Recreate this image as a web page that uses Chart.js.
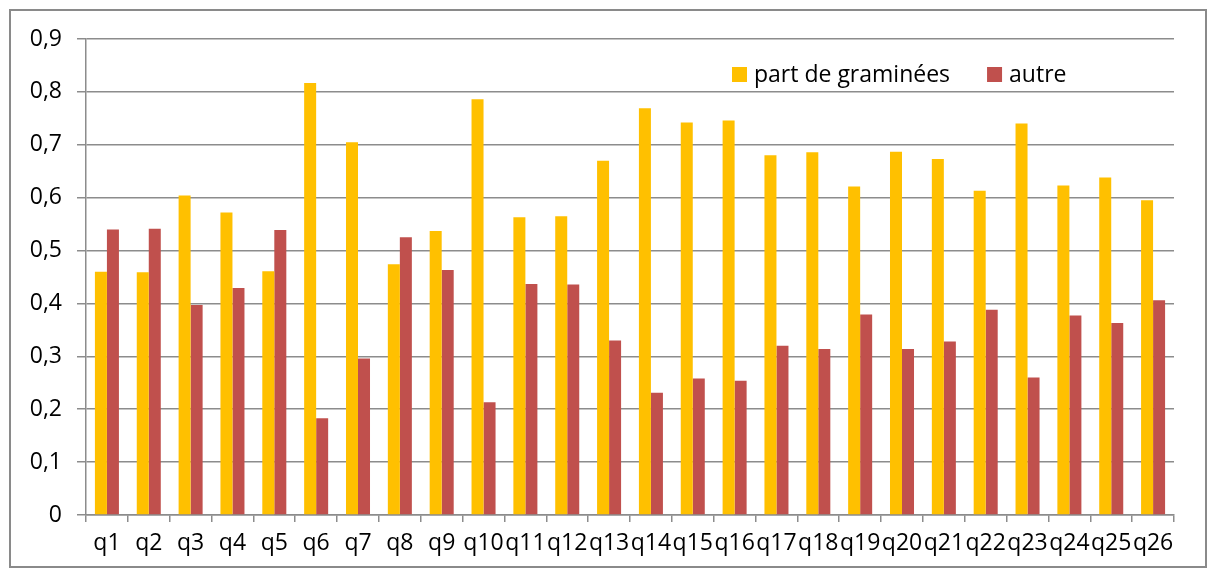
<!DOCTYPE html>
<html>
<head>
<meta charset="utf-8">
<script src="https://cdn.jsdelivr.net/npm/chart.js@4.4.0/dist/chart.umd.min.js"></script>
<style>
  html, body { margin: 0; padding: 0; background: #ffffff; }
  #wrap { position: relative; width: 1215px; height: 576px; }
  #frame { position: absolute; left: 9px; top: 9px; width: 1194px; height: 555px; border: 2px solid #8a8a8a; pointer-events: none; }
  canvas { position: absolute; left: 0; top: 0; }
</style>
</head>
<body>
<div id="wrap">
  <canvas id="myChart" width="1215" height="576"></canvas>
  <div id="frame"></div>
</div>
<script>
const questions = ['q1','q2','q3','q4','q5','q6','q7','q8','q9','q10','q11','q12','q13',
                   'q14','q15','q16','q17','q18','q19','q20','q21','q22','q23','q24','q25','q26'];
const graminees = [0.460, 0.459, 0.604, 0.572, 0.461, 0.817, 0.705, 0.474, 0.537, 0.786, 0.563, 0.565, 0.670,
                   0.769, 0.742, 0.746, 0.680, 0.686, 0.621, 0.687, 0.673, 0.613, 0.740, 0.623, 0.638, 0.595];
const autre = [0.540, 0.541, 0.397, 0.429, 0.539, 0.183, 0.296, 0.525, 0.463, 0.213, 0.437, 0.436, 0.330,
               0.231, 0.258, 0.254, 0.320, 0.314, 0.379, 0.314, 0.328, 0.388, 0.260, 0.377, 0.363, 0.406];
const yTicks = [0, 0.1, 0.2, 0.3, 0.4, 0.5, 0.6, 0.7, 0.8, 0.9];

const fontFamily = '"Open Sans", "Noto Sans", sans-serif';
const fontSize = 23;
const gridColor = '#8c8c8c';

// legend drawn inside the plot, top right like the original
const insideLegend = {
  id: 'insideLegend',
  afterDraw(chart) {
    const ctx = chart.ctx;
    const area = chart.chartArea;
    ctx.save();
    ctx.font = fontSize + 'px ' + fontFamily;
    ctx.textBaseline = 'middle';
    let x = area.right - 442;
    const y = area.top + 36;
    chart.data.datasets.forEach((ds) => {
      ctx.fillStyle = ds.backgroundColor;
      ctx.fillRect(x, y - 8, 15, 15);
      ctx.fillStyle = '#000';
      ctx.fillText(ds.label, x + 22, y);
      x += 22 + ctx.measureText(ds.label).width + 37;
    });
    ctx.restore();
  }
};

const ctx = document.getElementById('myChart');

new Chart(ctx, {
  type: 'bar',
  data: {
    labels: questions,
    datasets: [
      { label: 'part de graminées', data: graminees, backgroundColor: '#FFC000' },
      { label: 'autre', data: autre, backgroundColor: '#C0504D' }
    ]
  },
  options: {
    responsive: false,
    animation: false,
    layout: { padding: { top: 39, right: 41, left: 0, bottom: 0 } },
    datasets: {
      bar: { categoryPercentage: 0.574, barPercentage: 1.0 }
    },
    plugins: {
      legend: { display: false },
      tooltip: { enabled: false }
    },
    scales: {
      x: {
        offset: true,
        grid: { drawOnChartArea: false, drawTicks: true, tickLength: 7, color: gridColor, lineWidth: 1.5, offset: true },
        border: { color: gridColor, width: 1.5 },
        ticks: {
          color: '#000',
          font: { family: fontFamily, size: fontSize },
          autoSkip: false,
          maxRotation: 0,
          minRotation: 0,
          padding: 8
        },
        afterFit(scale) { scale.height = 61; }
      },
      y: {
        min: 0,
        max: 0.9,
        afterBuildTicks(scale) { scale.ticks = yTicks.map((v) => ({ value: v })); },
        grid: { color: gridColor, lineWidth: 1.5, tickLength: 9 },
        border: { color: gridColor, width: 1.5 },
        ticks: {
          color: '#000',
          font: { family: fontFamily, size: fontSize },
          padding: 15,
          callback: (v) => v === 0 ? '0' : v.toFixed(1).replace('.', ',')
        },
        afterFit(scale) { scale.width = 86; }
      }
    }
  },
  plugins: [insideLegend]
});
</script>
</body>
</html>
